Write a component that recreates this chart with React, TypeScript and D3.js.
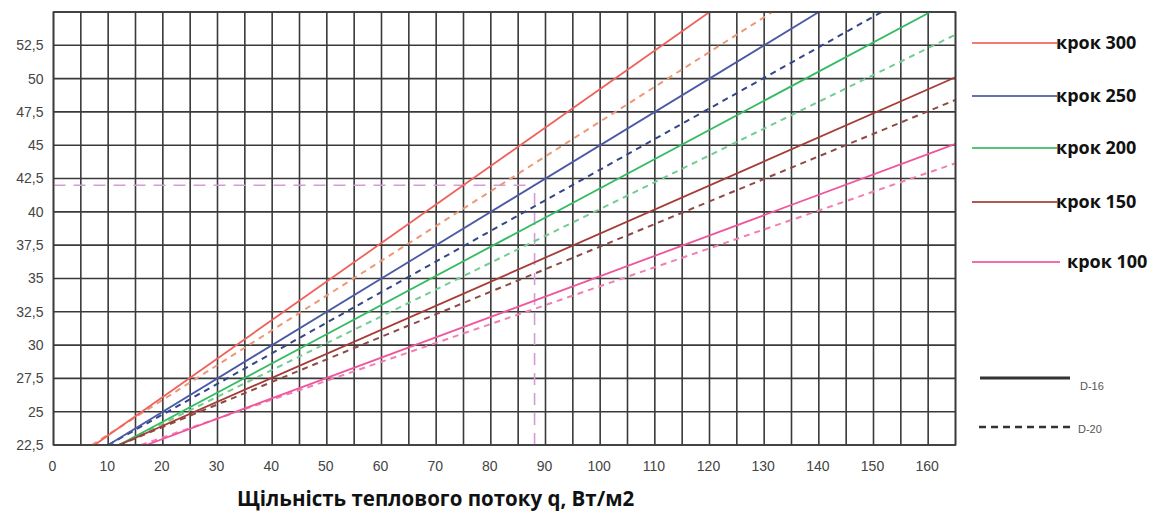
import React, { useRef, useEffect } from 'react';
import * as d3 from 'd3';

// крок укладання труби, мм
const kroky = ['крок 300', 'крок 250', 'крок 200', 'крок 150', 'крок 100'];
const colorsD16 = ['#f0625c', '#4a5aa6', '#33bb62', '#a53c36', '#f0559c'];
const colorsD20 = ['#ee9878', '#34468a', '#72cd92', '#8f4a46', '#f27fb2'];

// [q, t] — суцільні (D-16)
const d16Lines: [number, number][][] = [
  [[7.5, 22.5], [120, 55]],
  [[10, 22.5], [140, 55]],
  [[12, 22.5], [160.4, 55]],
  [[12, 22.5], [165, 50.1]],
  [[17, 22.5], [165, 45.1]],
];

// [q, t] — пунктирні (D-20)
const d20Lines: [number, number][][] = [
  [[7, 22.5], [131.5, 55]],
  [[10, 22.5], [151.5, 55]],
  [[12, 22.5], [165, 53.3]],
  [[12, 22.5], [165, 48.4]],
  [[16, 22.5], [165, 43.65]],
];

const xTicks = d3.range(0, 161, 10);
const yTicks = d3.range(22.5, 53, 2.5);
const xGrid = d3.range(0, 166, 5);
const yGrid = d3.range(22.5, 55.1, 2.5);

// приклад: q = 88, t = 42
const example = { q: 88, t: 42 };

const App = () => {
  const svgRef = useRef<SVGSVGElement>(null);

  useEffect(() => {
    const width = 1159;
    const height = 512;
    const left = 53.5, right = 955.5, top = 12, bottom = 445;

    const svg = d3.select(svgRef.current)
      .attr('width', width)
      .attr('height', height)
      .style('background', '#fff');
    svg.selectAll('*').remove();

    const x = d3.scaleLinear().domain([0, 165]).range([left, right]);
    const y = d3.scaleLinear().domain([22.5, 55]).range([bottom, top]);

    svg.append('defs').append('clipPath').attr('id', 'plot-clip')
      .append('rect')
      .attr('x', left).attr('y', top)
      .attr('width', right - left).attr('height', bottom - top);

    // grid
    const grid = svg.append('g').attr('stroke', '#3a3a3a').attr('stroke-width', 1.6);
    grid.selectAll('.vg').data(xGrid).enter().append('line')
      .attr('x1', d => x(d)).attr('x2', d => x(d))
      .attr('y1', top).attr('y2', bottom);
    grid.selectAll('.hg').data(yGrid).enter().append('line')
      .attr('x1', left).attr('x2', right)
      .attr('y1', d => y(d)).attr('y2', d => y(d));

    // tick labels
    const fmt = (v: number) => String(v).replace('.', ',');
    svg.append('g')
      .attr('font-family', '"Liberation Sans", Arial, sans-serif')
      .attr('font-size', 14).attr('fill', '#444').attr('text-anchor', 'end')
      .selectAll('text').data(yTicks).enter().append('text')
      .attr('x', left - 10).attr('y', d => y(d)).attr('dy', '0.35em')
      .text(d => fmt(d));
    svg.append('g')
      .attr('font-family', '"Liberation Sans", Arial, sans-serif')
      .attr('font-size', 14).attr('fill', '#444').attr('text-anchor', 'middle')
      .selectAll('text').data(xTicks).enter().append('text')
      .attr('x', d => x(d) - 1).attr('y', 466).attr('dy', '0.35em')
      .text(d => d);

    const line = d3.line<[number, number]>().x(d => x(d[0])).y(d => y(d[1]));
    const plot = svg.append('g').attr('clip-path', 'url(#plot-clip)');

    // example guide lines
    plot.append('path')
      .attr('d', line([[0, example.t], [example.q, example.t]]))
      .attr('fill', 'none').attr('stroke', '#d79ad9').attr('stroke-width', 1.6)
      .attr('stroke-dasharray', '12,8');
    plot.append('path')
      .attr('d', line([[example.q, 22.5], [example.q, example.t]]))
      .attr('fill', 'none').attr('stroke', '#d79ad9').attr('stroke-width', 1.6)
      .attr('stroke-dasharray', '12,8');

    d20Lines.forEach((pts, i) => {
      plot.append('path').attr('d', line(pts))
        .attr('fill', 'none').attr('stroke', colorsD20[i]).attr('stroke-width', 2)
        .attr('stroke-dasharray', '6,5');
    });
    d16Lines.forEach((pts, i) => {
      plot.append('path').attr('d', line(pts))
        .attr('fill', 'none').attr('stroke', colorsD16[i]).attr('stroke-width', 1.8);
    });

    // frame
    svg.append('rect')
      .attr('x', left).attr('y', top).attr('width', right - left).attr('height', bottom - top)
      .attr('fill', 'none').attr('stroke', '#3a3a3a').attr('stroke-width', 1.6);

    // x axis title
    svg.append('text')
      .attr('x', 237).attr('y', 506)
      .attr('font-family', '"Open Sans", sans-serif').attr('font-weight', 700)
      .attr('font-size', 20.5).attr('fill', '#111')
      .text('Щільність теплового потоку q, Вт/м2');

    // legend: кроки
    const legendY = [43, 96, 148, 202, 262];
    const legend = svg.append('g');
    kroky.forEach((k, i) => {
      legend.append('line')
        .attr('x1', 972).attr('x2', i === 4 ? 1060 : 1057)
        .attr('y1', legendY[i]).attr('y2', legendY[i])
        .attr('stroke', colorsD16[i]).attr('stroke-width', 2.2).attr('opacity', 0.85);
      legend.append('text')
        .attr('x', i === 4 ? 1067 : 1056).attr('y', legendY[i]).attr('dy', '0.35em')
        .attr('font-family', '"Open Sans", sans-serif').attr('font-weight', 700)
        .attr('font-size', 18).attr('fill', '#111')
        .text(k);
    });

    // legend: діаметри
    legend.append('line')
      .attr('x1', 980).attr('x2', 1070).attr('y1', 378).attr('y2', 378)
      .attr('stroke', '#333').attr('stroke-width', 3);
    legend.append('text')
      .attr('x', 1080).attr('y', 386).attr('dy', '0.35em')
      .attr('font-family', '"Liberation Sans", Arial, sans-serif')
      .attr('font-size', 11).attr('fill', '#555').text('D-16');
    legend.append('line')
      .attr('x1', 979).attr('x2', 1073).attr('y1', 427).attr('y2', 427)
      .attr('stroke', '#333').attr('stroke-width', 2.5).attr('stroke-dasharray', '7,5');
    legend.append('text')
      .attr('x', 1078).attr('y', 429).attr('dy', '0.35em')
      .attr('font-family', '"Liberation Sans", Arial, sans-serif')
      .attr('font-size', 11).attr('fill', '#555').text('D-20');
  }, []);

  return (
    <div style={{ position: 'absolute', left: 0, top: 0 }}>
      <svg ref={svgRef} style={{ display: 'block' }}></svg>
    </div>
  );
};

export default App;
